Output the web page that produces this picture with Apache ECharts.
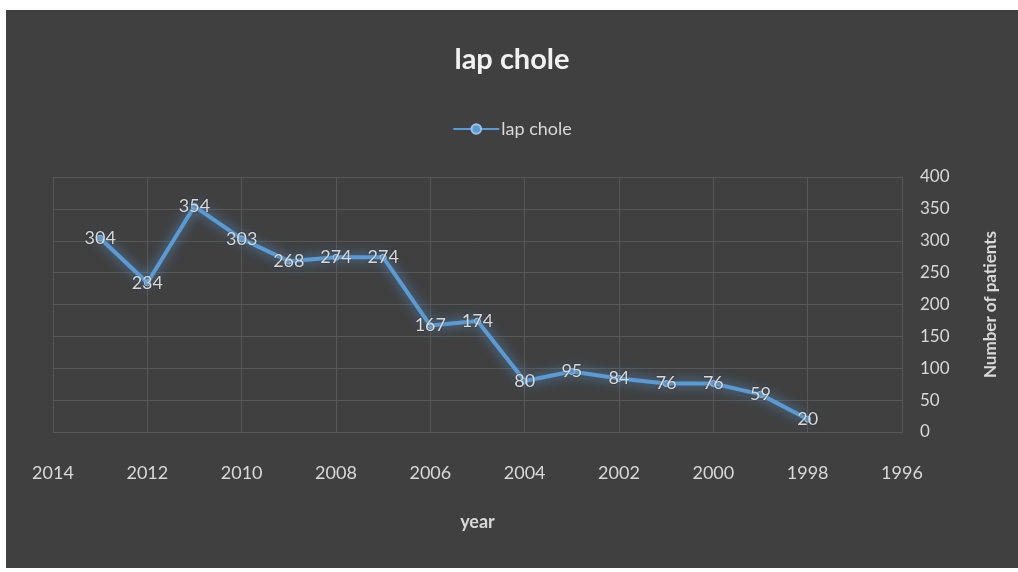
<!DOCTYPE html>
<html>
<head>
<meta charset="utf-8">
<script src="https://cdn.jsdelivr.net/npm/echarts@6/dist/echarts.min.js"></script>
<style>
html,body{margin:0;padding:0;background:#ffffff;width:1018px;height:572px;overflow:hidden;}
#chart{position:absolute;left:6px;top:10px;width:1012px;height:558px;}
</style>
</head>
<body>
<div id="chart"></div>
<script>
const years = [2013, 2012, 2011, 2010, 2009, 2008, 2007, 2006, 2005, 2004, 2003, 2002, 2001, 2000, 1999, 1998];
const patients = [304, 234, 354, 303, 268, 274, 274, 167, 174, 80, 95, 84, 76, 76, 59, 20];
const seriesName = 'lap chole';
const titleText = 'lap chole';
const xName = 'year';
const yName = 'Number of patients';

const font = 'Lato, "Open Sans", sans-serif';
const txt = '#d9d9d9';
const grid = '#575757';
const blue = '#5b9bd5';

const chart = echarts.init(document.getElementById('chart'));
chart.setOption({
  backgroundColor: '#404040',
  animation: false,
  title: {
    text: titleText,
    left: 'center',
    top: 30,
    textStyle: {color: '#f2f2f2', fontSize: 29, fontWeight: 'bold', fontFamily: font}
  },
  legend: {
    top: 105,
    left: 'center',
    itemWidth: 46,
    itemHeight: 12,
    itemGap: 4,
    textStyle: {color: txt, fontSize: 18, fontFamily: font, padding: [0, 0, 0, -3]},
    data: [seriesName]
  },
  grid: {left: 47, right: 116, top: 167, bottom: 136},
  xAxis: {
    type: 'value',
    inverse: true,
    min: 1996,
    max: 2014,
    interval: 2,
    name: xName,
    nameLocation: 'middle',
    nameGap: 81,
    nameTextStyle: {color: txt, fontSize: 18, fontWeight: 'bold', fontFamily: font},
    axisLine: {show: true, lineStyle: {color: grid}},
    axisTick: {show: false},
    splitLine: {show: true, lineStyle: {color: grid, width: 1}},
    axisLabel: {color: txt, fontSize: 18, fontFamily: font, margin: 32, formatter: v => String(v)}
  },
  yAxis: {
    type: 'value',
    position: 'right',
    min: 0,
    max: 400,
    interval: 50,
    name: yName,
    nameLocation: 'middle',
    nameRotate: 90,
    nameGap: 80,
    nameTextStyle: {color: txt, fontSize: 17, fontWeight: 'bold', fontFamily: font},
    axisLine: {show: true, lineStyle: {color: grid}},
    axisTick: {show: false},
    splitLine: {show: true, lineStyle: {color: grid, width: 1}},
    axisLabel: {color: txt, fontSize: 17, fontFamily: font, margin: 18, align: 'left'}
  },
  series: [{
    name: seriesName,
    type: 'line',
    data: years.map((y, i) => [y, patients[i]]),
    symbol: 'circle',
    symbolSize: 6,
    itemStyle: {color: blue, borderColor: '#9cc3e6', borderWidth: 1},
    lineStyle: {color: blue, width: 4, shadowColor: 'rgba(91,155,213,0.9)', shadowBlur: 12},
    label: {
      show: true,
      position: 'inside',
      color: '#d9d9d9',
      fontSize: 18,
      fontFamily: font,
      textShadowColor: 'rgba(0,0,0,0.5)',
      textShadowBlur: 2
    },
    z: 3
  }]
});
</script>
</body>
</html>
